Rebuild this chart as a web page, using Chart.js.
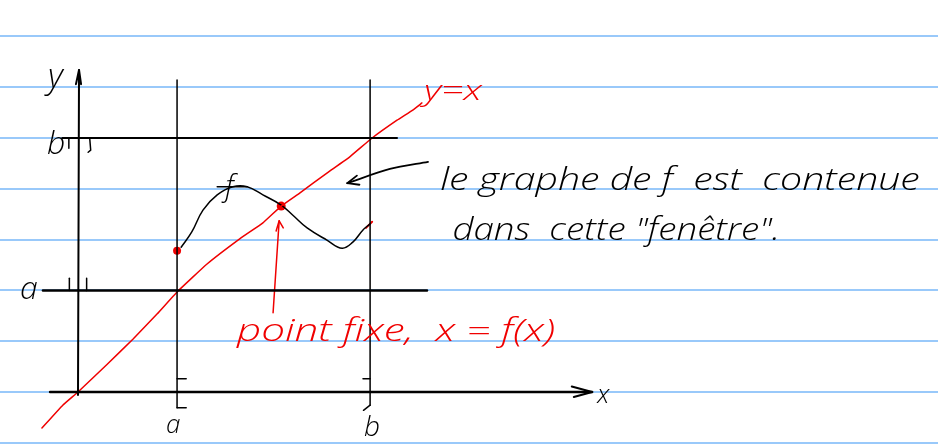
<!DOCTYPE html>
<html>
<head>
<meta charset="utf-8">
<script src="https://cdn.jsdelivr.net/npm/chart.js@4.4.0/dist/chart.umd.min.js"></script>
<style>
  html, body { margin: 0; padding: 0; background: #ffffff; }
  #wrap { width: 938px; height: 445px; position: relative; }
</style>
</head>
<body>
<div id="wrap"><canvas id="sketch"></canvas></div>
<script>
// sketch units: one ruled line = 1 unit, origin where the two axes cross
const ruledLines = [-1, 0, 1, 2, 3, 4, 5, 6, 7];

// the "window" [a,b] x [a,b]
const windowX = [1.95, 5.75];
const windowY = [2, 5];

// red line y = x (hand drawn, not quite straight)
const identityX = [-0.71, -0.30, 0, 0.57, 1.08, 1.56, 1.95, 2.54, 3.19, 3.64, 4.0, 4.37, 4.9, 5.35, 5.79, 6.28, 6.59, 6.77];
const identityY = [-0.71, -0.26, 0, 0.54, 1.04, 1.54, 1.97, 2.52, 3.02, 3.33, 3.66, 3.92, 4.31, 4.63, 5.0, 5.35, 5.55, 5.69];

// graph of f inside the window
const curveX = [2.03, 2.24, 2.46, 2.74, 3.05, 3.33, 3.64, 4.0, 4.23, 4.51, 4.9, 5.2, 5.41, 5.61, 5.75];
const curveY = [2.85, 3.15, 3.58, 3.88, 4.04, 4.04, 3.88, 3.68, 3.48, 3.23, 2.99, 2.83, 2.95, 3.19, 3.31];

const fStart = [1.95, 2.78];
const fixedPoint = [4.0, 3.66];

const ink = '#000000';
const redInk = '#f00000';
const ruleBlue = 'rgb(153,201,250)';

function pts(xs, ys) {
    return xs.map((v, i) => ({ x: v, y: ys[i] }));
}

function stroke(points, color, width, tension) {
    return {
        data: points,
        showLine: true,
        borderColor: color,
        borderWidth: width,
        pointRadius: 0,
        tension: tension || 0,
        borderCapStyle: 'round',
        borderJoinStyle: 'round',
        fill: false
    };
}

const datasets = [
    // axes
    stroke([{ x: 0, y: -0.06 }, { x: 0.02, y: 6.34 }], ink, 2),
    stroke([{ x: -0.04, y: 6.06 }, { x: 0.02, y: 6.34 }, { x: 0.06, y: 6.06 }], ink, 2),
    stroke([{ x: -0.55, y: 0 }, { x: 10.12, y: 0 }], ink, 2.5),
    stroke([{ x: 9.72, y: 0.11 }, { x: 10.12, y: 0 }, { x: 9.76, y: -0.1 }], ink, 2),

    // window sides
    stroke([{ x: windowX[0], y: 6.14 }, { x: windowX[0], y: -0.31 }], ink, 1.5),
    stroke([{ x: windowX[1], y: 6.14 }, { x: windowX[1], y: -0.26 }], ink, 1.5),
    stroke([{ x: -0.69, y: windowY[0] }, { x: 6.87, y: windowY[0] }], ink, 2.5),
    stroke([{ x: -0.31, y: windowY[1] }, { x: 6.28, y: windowY[1] }], ink, 2),

    // interval brackets on the x axis
    stroke([{ x: 2.13, y: 0.26 }, { x: windowX[0], y: 0.26 }], ink, 1.5),
    stroke([{ x: windowX[0], y: -0.31 }, { x: 2.13, y: -0.31 }], ink, 1.5),
    stroke([{ x: 5.61, y: 0.26 }, { x: windowX[1], y: 0.26 }], ink, 1.5),
    stroke([{ x: windowX[1], y: -0.26 }, { x: 5.62, y: -0.36 }], ink, 1.5),

    // interval brackets on the y axis
    stroke([{ x: -0.17, y: windowY[0] }, { x: -0.17, y: 2.24 }], ink, 1.5),
    stroke([{ x: 0.16, y: windowY[0] }, { x: 0.17, y: 2.24 }], ink, 1.5),
    stroke([{ x: -0.18, y: windowY[1] }, { x: -0.18, y: 4.8 }], ink, 1.5),
    stroke([{ x: 0.23, y: windowY[1] }, { x: 0.25, y: 4.76 }, { x: 0.2, y: 4.72 }], ink, 1.5),

    // y = x
    stroke(pts(identityX, identityY), redInk, 1.5, 0.1),

    // f
    stroke(pts(curveX, curveY), ink, 1.5, 0.4),
    stroke([{ x: 2.74, y: 4.04 }, { x: 3.33, y: 4.04 }], ink, 1.5),
    stroke([{ x: 5.67, y: 3.23 }, { x: 5.79, y: 3.35 }], redInk, 2),

    // arrow from the comment
    stroke([{ x: 6.89, y: 4.53 }, { x: 6.14, y: 4.39 }, { x: 5.3, y: 4.11 }], ink, 1.8, 0.3),
    stroke([{ x: 5.49, y: 4.26 }, { x: 5.3, y: 4.11 }, { x: 5.54, y: 4.08 }], ink, 1.8),

    // arrow to the fixed point
    stroke([{ x: 3.84, y: 1.56 }, { x: 3.96, y: 3.37 }], redInk, 1.5),
    stroke([{ x: 3.9, y: 3.17 }, { x: 3.96, y: 3.37 }, { x: 4.04, y: 3.23 }], redInk, 1.5),

    // dots
    {
        data: [{ x: fStart[0], y: fStart[1] }, { x: fixedPoint[0], y: fixedPoint[1] }],
        showLine: false,
        pointRadius: [4, 4.5],
        pointBackgroundColor: redInk,
        pointBorderWidth: 0
    }
];

// handwritten notes, placed in sketch units (x, y = left end of baseline, to = right end)
const notes = [
    { text: 'y', x: -0.59, y: 5.98, color: ink, size: 34 },
    { text: 'b', x: -0.61, y: 4.69, color: ink, size: 32 },
    { text: 'a', x: -1.14, y: 1.83, color: ink, size: 32 },
    { text: 'x', x: 10.22, y: -0.22, color: ink, size: 26 },
    { text: 'a', x: 1.73, y: -0.81, color: ink, size: 26 },
    { text: 'b', x: 5.63, y: -0.87, color: ink, size: 28 },
    { text: 'f', x: 2.9, y: 3.86, color: ink, size: 30 },
    { text: 'y=x', x: 6.81, y: 5.75, color: redInk, size: 28, to: 7.95 },
    { text: 'le graphe de f  est  contenue', x: 7.13, y: 3.98, color: ink, size: 32, to: 16.57 },
    { text: 'dans  cette "fenêtre".', x: 7.37, y: 2.99, color: ink, size: 32, to: 13.82 },
    { text: 'point fixe,  x = f(x)', x: 3.13, y: 1.0, color: redInk, size: 32, to: 9.39 }
];

const handwriting = {
    id: 'handwriting',
    afterDatasetsDraw(chart) {
        const ctx = chart.ctx;
        const xs = chart.scales.x;
        const ys = chart.scales.y;
        notes.forEach(n => {
            const px = xs.getPixelForValue(n.x);
            const py = ys.getPixelForValue(n.y);
            ctx.save();
            ctx.font = 'italic 300 ' + n.size + 'px "Open Sans", "Lato", sans-serif';
            ctx.fillStyle = n.color;
            ctx.textBaseline = 'alphabetic';
            ctx.textAlign = 'left';
            ctx.translate(px, py);
            if (n.to !== undefined) {
                const w = ctx.measureText(n.text).width;
                ctx.scale((xs.getPixelForValue(n.to) - px) / w, 1);
            }
            ctx.fillText(n.text, 0, 0);
            ctx.restore();
        });
    }
};

const whitePaper = {
    id: 'whitePaper',
    beforeDraw(chart) {
        const ctx = chart.ctx;
        ctx.save();
        ctx.fillStyle = '#ffffff';
        ctx.fillRect(0, 0, chart.width, chart.height);
        ctx.restore();
    }
};

new Chart(document.getElementById('sketch'), {
    type: 'scatter',
    data: { datasets: datasets },
    options: {
        responsive: true,
        maintainAspectRatio: false,
        animation: false,
        layout: { padding: 0, autoPadding: false },
        plugins: {
            legend: { display: false },
            tooltip: { enabled: false }
        },
        scales: {
            x: {
                type: 'linear',
                display: false,
                min: -1.5354,
                max: 16.929
            },
            y: {
                type: 'linear',
                min: -1.0433,
                max: 7.7165,
                afterBuildTicks: function (scale) {
                    scale.ticks = ruledLines.map(v => ({ value: v }));
                },
                ticks: { display: false },
                border: { display: false },
                grid: {
                    color: ruleBlue,
                    lineWidth: 2,
                    drawTicks: false
                }
            }
        }
    },
    plugins: [whitePaper, handwriting]
});
</script>
</body>
</html>
